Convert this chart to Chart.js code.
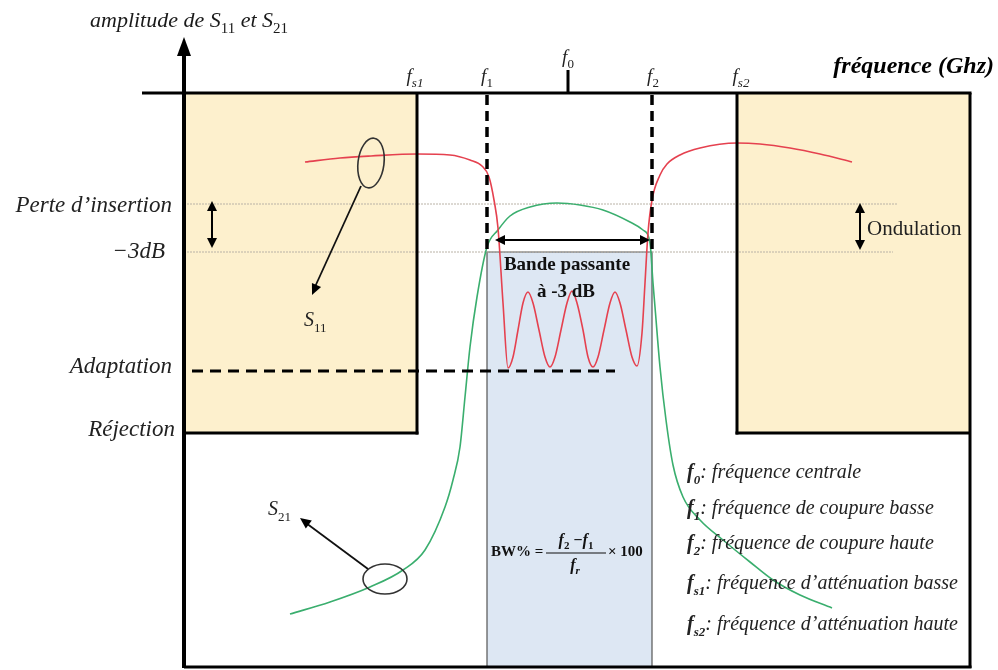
<!DOCTYPE html>
<html>
<head>
<meta charset="utf-8">
<script src="https://cdn.jsdelivr.net/npm/chart.js@4.4.0/dist/chart.umd.min.js"></script>
<style>
  html, body { margin: 0; padding: 0; background: #ffffff; }
  #wrap { width: 998px; height: 670px; position: relative; }
</style>
</head>
<body>
<div id="wrap"><canvas id="c" width="998" height="670"></canvas></div>
<script>
// ---------- DATA (schematic units: x = frequency, y = amplitude) ----------
const freqNames  = ['fs1', 'f1', 'f0', 'f2', 'fs2'];
const freqValues = [23.3, 30.3, 38.4, 46.8, 55.3];

const levelNames  = ['Perte d\u2019insertion', '\u22123dB', 'Adaptation', 'R\u00e9jection'];
const levelValues = [-11.1, -15.9, -27.8, -34.0];

const s11X = [12.1, 15.6, 18.7, 23.3, 26.6, 28.6, 29.8, 30.5, 31.0, 31.4, 31.9, 32.4,
              32.9, 33.4, 33.9, 34.4, 34.9, 35.5, 36.1, 36.6, 37.1, 37.7, 38.3, 38.8,
              39.3, 39.9, 40.4, 40.9, 41.4, 42.0, 42.6, 43.1, 43.6, 44.2, 44.8, 45.3,
              45.8, 46.1, 46.4, 46.8, 47.6, 48.3, 49.6, 51.6, 55.3, 57.6, 60.6, 63.6, 66.8];
const s11Y = [-6.9, -6.5, -6.3, -6.1, -6.2, -6.7, -7.3, -8.4, -10.7, -13.5, -21.0, -27.5,
              -26.4, -23.7, -21.0, -19.9, -21.0, -23.7, -26.4, -27.4, -26.4, -23.7, -21.0, -19.8,
              -21.0, -23.7, -26.4, -27.4, -26.4, -23.7, -21.0, -19.9, -21.0, -23.7, -26.4, -27.3,
              -24.0, -19.0, -14.0, -10.7, -8.2, -7.1, -6.2, -5.5, -5.0, -5.1, -5.5, -6.1, -6.9];

const s21X = [10.6, 14.6, 18.6, 21.9, 24.1, 26.1, 26.9, 27.6, 28.1, 28.6, 29.3, 30.3,
              31.4, 32.6, 34.6, 37.3, 39.6, 41.9, 44.6, 45.9, 46.6, 46.9, 47.1, 47.6,
              48.2, 48.9, 49.9, 51.6, 53.9, 56.6, 58.9, 61.6, 64.8];
const s21Y = [-52.1, -50.9, -49.4, -47.7, -45.7, -41.4, -38.7, -35.4, -30.4, -25.4, -20.4, -15.4,
              -13.7, -12.3, -11.4, -11.0, -11.2, -11.7, -12.9, -13.7, -15.0, -19.0, -21.4, -27.4,
              -32.7, -37.2, -40.4, -42.7, -44.7, -46.9, -48.7, -50.2, -51.5];

const seriesNames = ['S11', 'S21'];
const axisTitles  = ['amplitude de S11 et S21', 'fr\u00e9quence (Ghz)'];
const legendKeys  = ['0', '1', '2', 's1', 's2'];
const legendTexts = [': fr\u00e9quence centrale',
                     ': fr\u00e9quence de coupure basse',
                     ': fr\u00e9quence de coupure haute',
                     ': fr\u00e9quence d\u2019att\u00e9nuation basse',
                     ': fr\u00e9quence d\u2019att\u00e9nuation haute'];

const X_MIN = -4.2, X_MAX = 78.6, Y_MIN = -57.5, Y_MAX = 5.6;

// ---------- helpers ----------
const SERIF = '"Liberation Serif", "DejaVu Serif", serif';
function fnt(size, bold, italic) {
  return (italic ? 'italic ' : '') + (bold ? 'bold ' : '') + size + 'px ' + SERIF;
}
function drawRich(ctx, parts, x, y, align, size, bold, italic) {
  let w = 0;
  const m = parts.map(p => {
    const s = p.sub ? Math.round(size * 0.66) : size;
    const f = fnt(s, p.b !== undefined ? p.b : bold, p.i !== undefined ? p.i : italic);
    ctx.font = f;
    const ww = ctx.measureText(p.t).width;
    w += ww;
    return { f, ww, dy: p.sub ? size * 0.28 : 0, t: p.t };
  });
  let cx = align === 'right' ? x - w : align === 'center' ? x - w / 2 : x;
  ctx.textAlign = 'left';
  ctx.textBaseline = 'alphabetic';
  m.forEach(q => { ctx.font = q.f; ctx.fillText(q.t, cx, y + q.dy); cx += q.ww; });
}
function head(ctx, x1, y1, x2, y2, len, half) {
  const a = Math.atan2(y2 - y1, x2 - x1);
  ctx.beginPath();
  ctx.moveTo(x2, y2);
  ctx.lineTo(x2 - len * Math.cos(a) + half * Math.sin(a), y2 - len * Math.sin(a) - half * Math.cos(a));
  ctx.lineTo(x2 - len * Math.cos(a) - half * Math.sin(a), y2 - len * Math.sin(a) + half * Math.cos(a));
  ctx.closePath();
  ctx.fill();
}
function line(ctx, x1, y1, x2, y2, w, color, dash) {
  ctx.save();
  ctx.beginPath();
  ctx.lineWidth = w; ctx.strokeStyle = color || '#000';
  ctx.setLineDash(dash || []);
  ctx.moveTo(x1, y1); ctx.lineTo(x2, y2); ctx.stroke();
  ctx.restore();
}
function dblArrow(ctx, x1, y1, x2, y2) {
  ctx.save();
  ctx.fillStyle = '#000';
  const a = Math.atan2(y2 - y1, x2 - x1);
  line(ctx, x1 + 6 * Math.cos(a), y1 + 6 * Math.sin(a), x2 - 6 * Math.cos(a), y2 - 6 * Math.sin(a), 2, '#000');
  head(ctx, x1, y1, x2, y2, 10, 5);
  head(ctx, x2, y2, x1, y1, 10, 5);
  ctx.restore();
}

// ---------- drawing plugin ----------
const diagram = {
  id: 'diagram',
  beforeDatasetsDraw(chart) {
    const ctx = chart.ctx, xs = chart.scales.x, ys = chart.scales.y;
    const X = v => xs.getPixelForValue(v), Y = v => ys.getPixelForValue(v);
    const fs1 = freqValues[0], f1 = freqValues[1], f2 = freqValues[3], fs2 = freqValues[4];
    const rej = levelValues[3], m3 = levelValues[1], perte = levelValues[0];
    ctx.save();
    // stop-band boxes
    ctx.fillStyle = '#fdf0cd';
    ctx.fillRect(X(0), Y(0), X(fs1) - X(0), Y(rej) - Y(0));
    ctx.fillRect(X(fs2), Y(0), X(X_MAX) - X(fs2), Y(rej) - Y(0));
    // pass band
    ctx.fillStyle = '#dde7f3';
    ctx.fillRect(X(f1), Y(m3), X(f2) - X(f1), Y(Y_MIN) - Y(m3));
    ctx.strokeStyle = '#555'; ctx.lineWidth = 1.2;
    ctx.beginPath();
    ctx.moveTo(X(f1), Y(Y_MIN)); ctx.lineTo(X(f1), Y(m3)); ctx.lineTo(X(f2), Y(m3)); ctx.lineTo(X(f2), Y(Y_MIN));
    ctx.stroke();
    // dotted reference levels
    line(ctx, X(0), Y(perte), X(71.3), Y(perte), 1, '#b9b2a6', [2, 1]);
    line(ctx, X(0), Y(m3), X(70.9), Y(m3), 1, '#b9b2a6', [2, 1]);
    ctx.restore();
  },
  afterDatasetsDraw(chart) {
    const ctx = chart.ctx, xs = chart.scales.x, ys = chart.scales.y;
    const X = v => xs.getPixelForValue(v), Y = v => ys.getPixelForValue(v);
    const fs1 = freqValues[0], f1 = freqValues[1], f0 = freqValues[2], f2 = freqValues[3], fs2 = freqValues[4];
    const perte = levelValues[0], m3 = levelValues[1], adapt = levelValues[2], rej = levelValues[3];
    ctx.save();
    ctx.fillStyle = '#000';
    // box borders
    line(ctx, X(fs1), Y(0), X(fs1), Y(rej) + 1.5, 3, '#000');
    line(ctx, X(0), Y(rej), X(fs1) + 1.5, Y(rej), 3, '#000');
    line(ctx, X(fs2), Y(0), X(fs2), Y(rej) + 1.5, 3, '#000');
    line(ctx, X(fs2) - 1.5, Y(rej), X(X_MAX), Y(rej), 3, '#000');
    // outer frame
    line(ctx, X(X_MAX), Y(0), X(X_MAX), Y(Y_MIN), 3, '#000');
    line(ctx, X(0), Y(Y_MIN) - 1, X(X_MAX) + 1.5, Y(Y_MIN) - 1, 3, '#000');
    // x axis
    line(ctx, X(X_MIN), Y(0), X(X_MAX) + 1.5, Y(0), 3, '#000');
    // y axis with arrow
    line(ctx, X(0), Y(Y_MIN), X(0), Y(Y_MAX) + 16, 4, '#000');
    ctx.beginPath();
    ctx.moveTo(X(0), Y(Y_MAX));
    ctx.lineTo(X(0) - 7, Y(Y_MAX) + 19);
    ctx.lineTo(X(0) + 7, Y(Y_MAX) + 19);
    ctx.closePath(); ctx.fill();
    // f0 tick
    line(ctx, X(f0), Y(0), X(f0), Y(0) - 23, 3, '#000');
    // cut-off dashed lines
    line(ctx, X(f1), Y(0) + 2, X(f1), Y(m3), 3.5, '#000', [10, 6]);
    line(ctx, X(f2), Y(0) + 2, X(f2), Y(m3), 3.5, '#000', [10, 6]);
    // adaptation dashed line
    line(ctx, X(0.8), Y(adapt), X(43.1), Y(adapt), 3, '#000', [11, 7]);
    // double arrows
    dblArrow(ctx, X(2.8), Y(perte) - 3, X(2.8), Y(m3) - 4);
    dblArrow(ctx, X(67.6), Y(perte) - 1, X(67.6), Y(m3) - 2);
    dblArrow(ctx, X(31.1), Y(-14.7), X(46.6), Y(-14.7));
    // ellipses + pointers
    ctx.strokeStyle = '#333'; ctx.lineWidth = 1.6;
    ctx.beginPath(); ctx.ellipse(X(18.7), Y(-7.0), 13, 25, 0.12, 0, Math.PI * 2); ctx.stroke();
    ctx.beginPath(); ctx.ellipse(X(20.1), Y(-48.6), 22, 15, 0, 0, Math.PI * 2); ctx.stroke();
    line(ctx, X(17.7), Y(-9.3), X(13.0), Y(-19.6), 1.8, '#111');
    head(ctx, X(17.7), Y(-9.3), X(12.8), Y(-20.2), 11, 5);
    line(ctx, X(18.4), Y(-47.6), X(12.2), Y(-43.0), 1.8, '#111');
    head(ctx, X(18.4), Y(-47.6), X(11.6), Y(-42.5), 11, 5);

    ctx.fillStyle = '#1a1a1a';
    // axis titles
    drawRich(ctx, [{ t: 'amplitude de S' }, { t: '11', sub: true, i: false }, { t: ' et S' }, { t: '21', sub: true, i: false }],
      90, 27, 'left', 22, false, true);
    ctx.fillStyle = '#000';
    drawRich(ctx, [{ t: axisTitles[1] }], 994, 73, 'right', 24, true, true);
    // frequency markers
    ctx.fillStyle = '#222';
    const fx = [X(fs1) - 2, X(f1), X(f0), X(f2) + 1, X(fs2) + 4];
    freqNames.forEach((n, k) => {
      const sub = n.slice(1);
      const by = k === 2 ? 63 : 82;
      drawRich(ctx, [{ t: 'f' }, { t: sub, sub: true, i: n.length > 2 }], fx[k], by, 'center', 19, false, true);
    });
    // level labels
    ctx.fillStyle = '#222';
    drawRich(ctx, [{ t: levelNames[0] }], 172, Y(perte) + 8, 'right', 23, false, true);
    drawRich(ctx, [{ t: levelNames[1] }], 165, Y(m3) + 6, 'right', 23, false, true);
    drawRich(ctx, [{ t: levelNames[2] }], 172, Y(adapt) + 2, 'right', 23, false, true);
    drawRich(ctx, [{ t: levelNames[3] }], 175, Y(rej) + 3, 'right', 23, false, true);
    // series labels
    drawRich(ctx, [{ t: 'S' }, { t: '11', sub: true, i: false }], X(12.0), Y(-23.3), 'left', 20, false, true);
    drawRich(ctx, [{ t: 'S' }, { t: '21', sub: true, i: false }], X(8.4), Y(-42.2), 'left', 20, false, true);
    // pass band text
    ctx.fillStyle = '#111';
    drawRich(ctx, [{ t: 'Bande passante' }], X(38.4) - 1, Y(-17.7), 'center', 19, true, false);
    drawRich(ctx, [{ t: '\u00e0 -3 dB' }], X(38.4) - 2, Y(-20.4), 'center', 19, true, false);
    // ondulation
    ctx.fillStyle = '#222';
    drawRich(ctx, [{ t: 'Ondulation' }], X(68.3), Y(-14.2), 'left', 21, false, false);
    // BW formula
    ctx.fillStyle = '#111';
    drawRich(ctx, [{ t: 'BW% =' }], X(30.7), Y(-46.3), 'left', 15, true, false);
    drawRich(ctx, [{ t: 'f', i: true }, { t: '2', sub: true }, { t: ' \u2212' }, { t: 'f', i: true }, { t: '1', sub: true }], X(39.2), Y(-45.2), 'center', 16, true, false);
    line(ctx, X(36.2), Y(-46.0), X(42.2), Y(-46.0), 1.2, '#111');
    drawRich(ctx, [{ t: 'f', i: true }, { t: 'r', sub: true, i: true }], X(39.1), Y(-47.7), 'center', 16, true, false);
    drawRich(ctx, [{ t: '\u00d7 100' }], X(42.4), Y(-46.3), 'left', 15, true, false);
    // legend
    ctx.fillStyle = '#222';
    const ly = [478, 514, 549, 589, 630];
    legendKeys.forEach((k, i) => {
      drawRich(ctx, [{ t: 'f', b: true }, { t: k, sub: true, b: true }, { t: legendTexts[i] }], 687, ly[i], 'left', 20, false, true);
    });
    ctx.restore();
  }
};

const toPts = (xs, ys) => xs.map((x, i) => ({ x, y: ys[i] }));

new Chart(document.getElementById('c'), {
  type: 'scatter',
  data: {
    datasets: [
      { label: seriesNames[0], data: toPts(s11X, s11Y), showLine: true, borderColor: '#e5414f',
        borderWidth: 1.6, pointRadius: 0, cubicInterpolationMode: 'monotone', fill: false },
      { label: seriesNames[1], data: toPts(s21X, s21Y), showLine: true, borderColor: '#3aae6e',
        borderWidth: 1.6, pointRadius: 0, cubicInterpolationMode: 'monotone', fill: false }
    ]
  },
  options: {
    responsive: false,
    maintainAspectRatio: false,
    devicePixelRatio: 1,
    animation: false,
    layout: { padding: { left: 142, right: 28, top: 37, bottom: 2 } },
    plugins: { legend: { display: false }, tooltip: { enabled: false }, title: { display: false } },
    scales: {
      x: { type: 'linear', min: X_MIN, max: X_MAX, display: false },
      y: { type: 'linear', min: Y_MIN, max: Y_MAX, display: false }
    }
  },
  plugins: [diagram]
});
</script>
</body>
</html>
